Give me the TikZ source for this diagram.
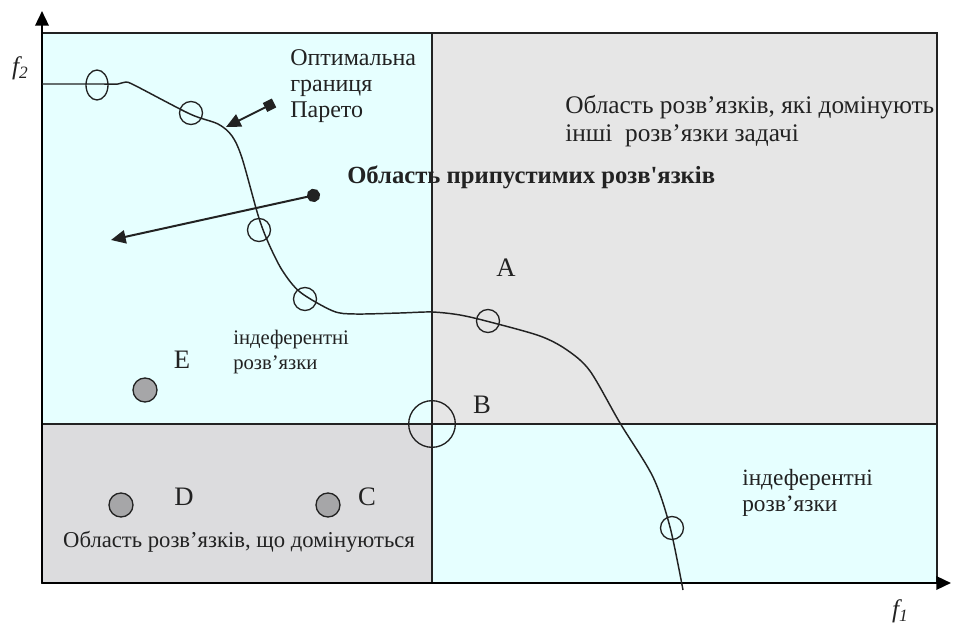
\documentclass[tikz,border=0pt]{standalone}
\usepackage{fontspec}
\setmainfont{Liberation Serif}
\usetikzlibrary{positioning, arrows.meta, shapes.geometric}

\definecolor{cyanbg}{HTML}{E6FFFF}
\definecolor{greybg}{HTML}{E6E6E6}
\definecolor{darkbg}{HTML}{DCDCDE}
\definecolor{dotgrey}{HTML}{A6A6A8}
\definecolor{ink}{HTML}{222222}

\begin{document}
\begin{tikzpicture}[
    x=0.75pt, y=-0.75pt,
    font=\fontsize{18}{19.5}\selectfont,
    region/.style={draw=ink, line width=0.9pt},
    axis/.style={draw=black, line width=1.8pt, -{Triangle[length=11pt, width=10pt]}},
    front/.style={draw=ink, line width=1.1pt},
    ring/.style={circle, draw=ink, line width=1pt, minimum size=17.25pt, inner sep=0pt},
    dot/.style={circle, draw=ink, fill=dotgrey, line width=1pt, minimum size=18pt, inner sep=0pt},
    letter/.style={text=ink, font=\fontsize{20}{22}\selectfont, inner sep=0pt},
    lbl/.style={text=ink, align=left, inner sep=0pt, anchor=north west},
    axlbl/.style={text=ink, inner sep=0pt, font=\fontsize{19}{20}\selectfont\itshape}
]
\useasboundingbox (0,0) rectangle (954,624);
% regions
\fill[cyanbg] (42,33) rectangle (432,424);
\fill[greybg] (432,33) rectangle (937,424);
\fill[darkbg] (42,424) rectangle (432,583);
\fill[cyanbg] (432,424) rectangle (937,583);
\draw[region] (42,33) rectangle (432,424);
\draw[region] (432,33) rectangle (937,424);
\draw[region] (42,424) rectangle (432,583);
\draw[region] (432,424) rectangle (937,583);
\draw[ink, line width=1.6pt] (42,424) -- (937,424);
% axes
\coordinate (o) at (42,583);
\coordinate (ytop) at (42,11);
\coordinate (xend) at (951,583);
\draw[axis] (o) -- (ytop);
\draw[axis] (o) -- (xend);
\node[axlbl] (f2) at (20,68) {f\raisebox{-0.35ex}{\fontsize{13}{14}\selectfont 2}};
\node[axlbl] (f1) at (900,611) {f\raisebox{-0.35ex}{\fontsize{13}{14}\selectfont 1}};
% Pareto front
\draw[front] plot[smooth, tension=0.5] coordinates {
  (42,84) (100,84) (118,84) (126,82) (136,86) (190,114) (218,124) (232,136)
  (242,158) (258,215) (268,242) (282,270) (300,292) (333,311) (355,314)
  (400,313) (432,312) (460,315) (490,322) (540,336) (567,350) (590,371)
  (620,423) (653,477) (670,527) (683,590)};
% markers on the front
\node[ellipse, draw=ink, line width=1pt, minimum width=16.5pt, minimum height=22.5pt, inner sep=0pt] (p1) at (97,85) {};
\node[ring] (p2) at (191,113) {};
\node[ring] (p3) at (259,230) {};
\node[ring] (p4) at (305,299) {};
\node[ring] (pa) at (488,321) {};
\node[ring, minimum size=35pt] (pb) at (432,424) {};
\node[ring] (p5) at (672,528) {};
\node[dot] (pe) at (145,390) {};
\node[dot] (pd) at (121,505) {};
\node[dot] (pc) at (328,505) {};
% point letters
\node[letter] (la) at (506,268) {A};
\node[letter] (lb) at (482,405) {B};
\node[letter] (lc) at (367,497) {C};
\node[letter] (ld) at (184,497) {D};
\node[letter] (le) at (182,360) {E};
% labels
\node[lbl] (opt) at (290,49) {Оптимальна\\границя\\Парето};
\node[lbl, font=\fontsize{19}{21}\selectfont] (dom) at (565,95) {Область розв’язків, які домінують\\інші\ \ розв’язки задачі};
\node[lbl, font=\fontsize{18.5}{20}\selectfont\bfseries] (adm) at (347,166) {Область припустимих розв\textquotesingle язків};
\node[lbl, font=\fontsize{15.5}{18.5}\selectfont] (ind1) at (233,330) {індеферентні\\розв’язки};
\node[lbl, font=\fontsize{17.5}{19.5}\selectfont] (ind2) at (742,469) {індеферентні\\розв’язки};
\node[text=ink, inner sep=0pt, font=\fontsize{17}{19}\selectfont] (dmd) at (239,542) {Область розв’язків, що домінуються};
% pointers
\coordinate (s1) at (274,103);
\coordinate (t1) at (226,127);
\draw[ink, line width=1.5pt, {Square[length=7.5pt, width=7.5pt]}-{Triangle[length=11pt, width=10pt]}] (s1) -- (t1);
\coordinate (s2) at (320,194);
\coordinate (t2) at (111,240);
\draw[ink, line width=1.5pt, {Circle[length=10pt]}-{Triangle[length=11pt, width=10pt]}] (s2) -- (t2);
\end{tikzpicture}
\end{document}
